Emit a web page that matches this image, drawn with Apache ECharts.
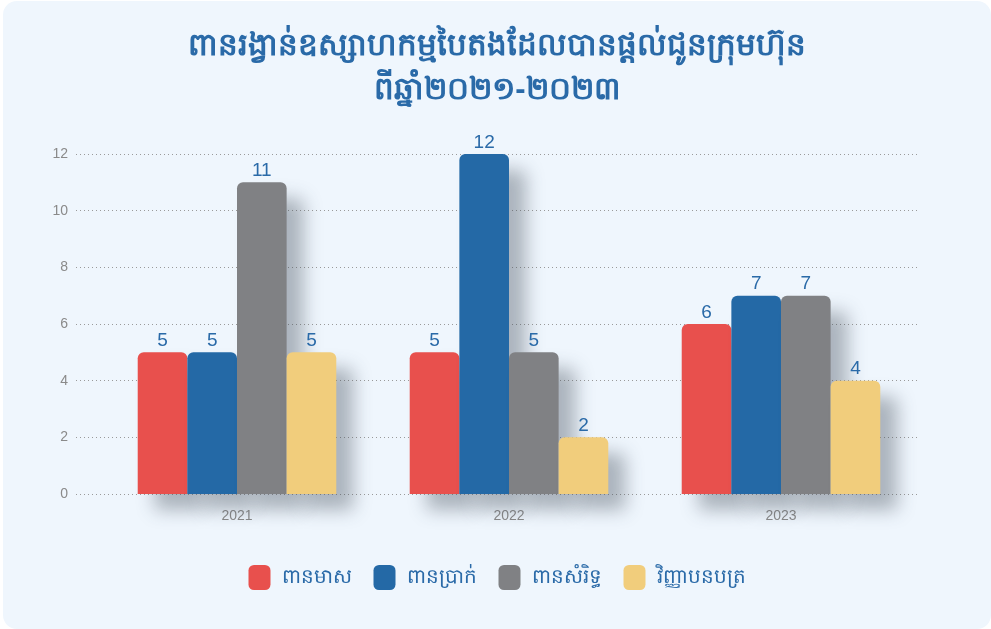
<!DOCTYPE html>
<html>
<head>
<meta charset="utf-8">
<script src="https://cdn.jsdelivr.net/npm/echarts@6/dist/echarts.min.js"></script>
<style>
    html, body { margin: 0; padding: 0; background: #ffffff; }
    #chart { position: absolute; left: 3px; top: 1px; width: 988px; height: 628px; background: #eff6fd; border-radius: 14px; overflow: hidden; }
</style>
</head>
<body>
<div id="chart"></div>
<script>
// ឆ្នាំ
var years = ['2021', '2022', '2023'];
// ប្រភេទពានរង្វាន់
var seriesNames = ['ពានមាស', 'ពានប្រាក់', 'ពានសំរិទ្ធ', 'វិញ្ញាបនបត្រ'];
var gold = [5, 5, 6];
var silver = [5, 12, 7];
var bronze = [11, 5, 7];
var certificate = [5, 2, 4];
var colors = ['#e8504d', '#2469a6', '#808184', '#f1cd7c'];
var yTicks = [0, 2, 4, 6, 8, 10, 12];

var chart = echarts.init(document.getElementById('chart'));

function makeSeries(name, data, color) {
    return {
        name: name,
        type: 'bar',
        xAxisIndex: 1,
        yAxisIndex: 1,
        data: data,
        barGap: '0%',
        barCategoryGap: '27%',
        itemStyle: {
            color: color,
            borderRadius: [6, 6, 0, 0],
            shadowColor: 'rgba(60, 70, 85, 0.38)',
            shadowBlur: 18,
            shadowOffsetX: 17,
            shadowOffsetY: 16
        },
        label: {
            show: true,
            position: 'top',
            distance: 2,
            color: '#2a6aa8',
            fontSize: 19,
            fontFamily: 'Liberation Sans, Arial, sans-serif'
        }
    };
}

var option = {
    title: {
        text: 'ពានរង្វាន់ឧស្សាហកម្មបៃតងដែលបានផ្តល់ជូនក្រុមហ៊ុន\nពីឆ្នាំ២០២១-២០២៣',
        left: 'center',
        top: 18,
        textStyle: {
            color: '#2a6aa8',
            fontSize: 31,
            fontWeight: 'bold',
            lineHeight: 44
        }
    },
    legend: {
        data: seriesNames,
        bottom: 34,
        left: 'center',
        itemWidth: 22,
        itemHeight: 25,
        itemGap: 22,
        icon: 'roundRect',
        textStyle: { color: '#2a6aa8', fontSize: 20, padding: [0, 0, 0, 6] }
    },
    grid: [
        { left: 73, right: 71, top: 153, bottom: 135 },
        { left: 98, right: 74, top: 153, bottom: 135 }
    ],
    xAxis: [
        { gridIndex: 0, type: 'category', data: years, show: false },
        {
            gridIndex: 1,
            type: 'category',
            data: years,
            axisLine: { show: false },
            axisTick: { show: false },
            axisLabel: { color: '#8a8a8a', fontSize: 14, margin: 15, fontFamily: 'Liberation Sans, Arial, sans-serif' }
        }
    ],
    yAxis: [
        {
            gridIndex: 0,
            type: 'value',
            min: yTicks[0],
            max: yTicks[yTicks.length - 1],
            interval: 2,
            axisLine: { show: false },
            axisTick: { show: false },
            axisLabel: { color: '#8a8a8a', fontSize: 14, margin: 8, fontFamily: 'Liberation Sans, Arial, sans-serif' },
            splitLine: { lineStyle: { color: '#9a9a9a', type: [1, 3], width: 1 } }
        },
        {
            gridIndex: 1,
            type: 'value',
            min: yTicks[0],
            max: yTicks[yTicks.length - 1],
            interval: 2,
            show: false,
            splitLine: { show: false }
        }
    ],
    series: [
        makeSeries(seriesNames[0], gold, colors[0]),
        makeSeries(seriesNames[1], silver, colors[1]),
        makeSeries(seriesNames[2], bronze, colors[2]),
        makeSeries(seriesNames[3], certificate, colors[3])
    ]
};
chart.setOption(option);
</script>
</body>
</html>
